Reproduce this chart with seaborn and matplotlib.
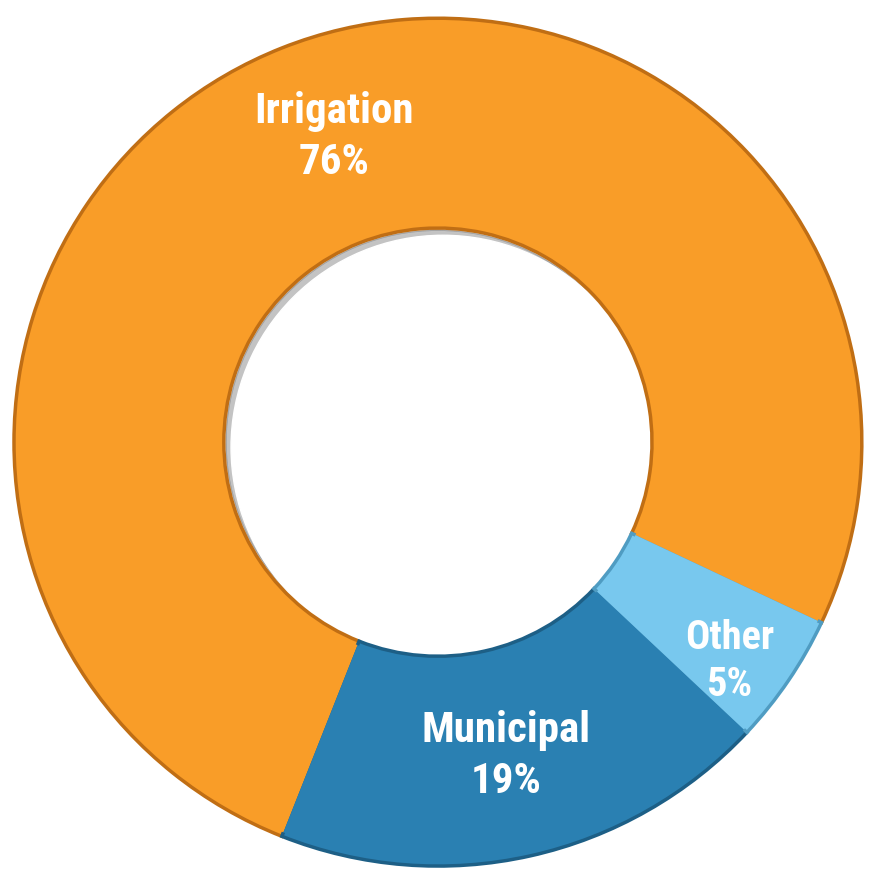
import numpy as np
import matplotlib
matplotlib.use("Agg")
from matplotlib import pyplot as plt, font_manager
import seaborn as sns

labels = ["Irrigation", "Municipal", "Other"]
shares = [76, 19, 5]
colors = ["#F99D28", "#2A80B2", "#78C8EE"]
edge_colors = ["#C06E14", "#1D5F86", "#4F9CC2"]

sns.set_theme(style="white")
installed = {f.name for f in font_manager.fontManager.ttflist}
narrow = [n for n in ["Liberation Sans Narrow", "Roboto Condensed", "Arial Narrow",
                      "Open Sans Condensed", "Noto Sans Condensed"] if n in installed]
if narrow:
    plt.rcParams["font.family"] = [narrow[0], "DejaVu Sans"]
    fs = 31
else:
    plt.rcParams["font.family"] = ["Roboto", "DejaVu Sans"]
    fs = 29

fig = plt.figure(figsize=(8.72, 8.72), dpi=100)
ax = fig.add_axes([0, 0, 1, 1])

# shadow cast by the ring into the hole (upper-left side)
for a in [0.12, 0.12, 0.14]:
    ax.add_patch(plt.Circle((0, 0), 0.5, color="#505050", alpha=a, zorder=0))
ax.add_patch(plt.Circle((0.012, -0.012), 0.5, color="white", zorder=1))

wedges, _ = ax.pie(shares, colors=colors, startangle=-25.2, counterclock=True,
                   radius=1.0, wedgeprops=dict(width=0.495, linewidth=2.5))
for w, ec in zip(wedges, edge_colors):
    w.set_edgecolor(ec)
    w.set_zorder(2)

# slightly inset face for the bevel look
inner, _ = ax.pie(shares, colors=colors, startangle=-25.2, counterclock=True,
                  radius=0.99, wedgeprops=dict(width=0.475, linewidth=0))
for w in inner:
    w.set_zorder(3)

# label radius and small angular nudge (deg) per slice
label_r = {"Irrigation": 0.76, "Municipal": 0.758, "Other": 0.86}
label_da = {"Irrigation": -2.8, "Municipal": -0.4, "Other": -2.7}
for w, lab, val in zip(wedges, labels, shares):
    mid = np.deg2rad((w.theta1 + w.theta2) / 2 + label_da[lab])
    r = label_r[lab]
    size = fs - 2 if lab == "Other" else fs
    ax.text(r * np.cos(mid), r * np.sin(mid), f"{lab}\n{val}%",
            ha="center", va="center", color="white", fontsize=size,
            fontweight="bold", linespacing=1.3, zorder=5)

ax.set_xlim(-1.033, 1.024)
ax.set_ylim(-1.014, 1.043)
ax.set_aspect("equal")
ax.axis("off")

fig.savefig("out.png", dpi=100, facecolor="white")
